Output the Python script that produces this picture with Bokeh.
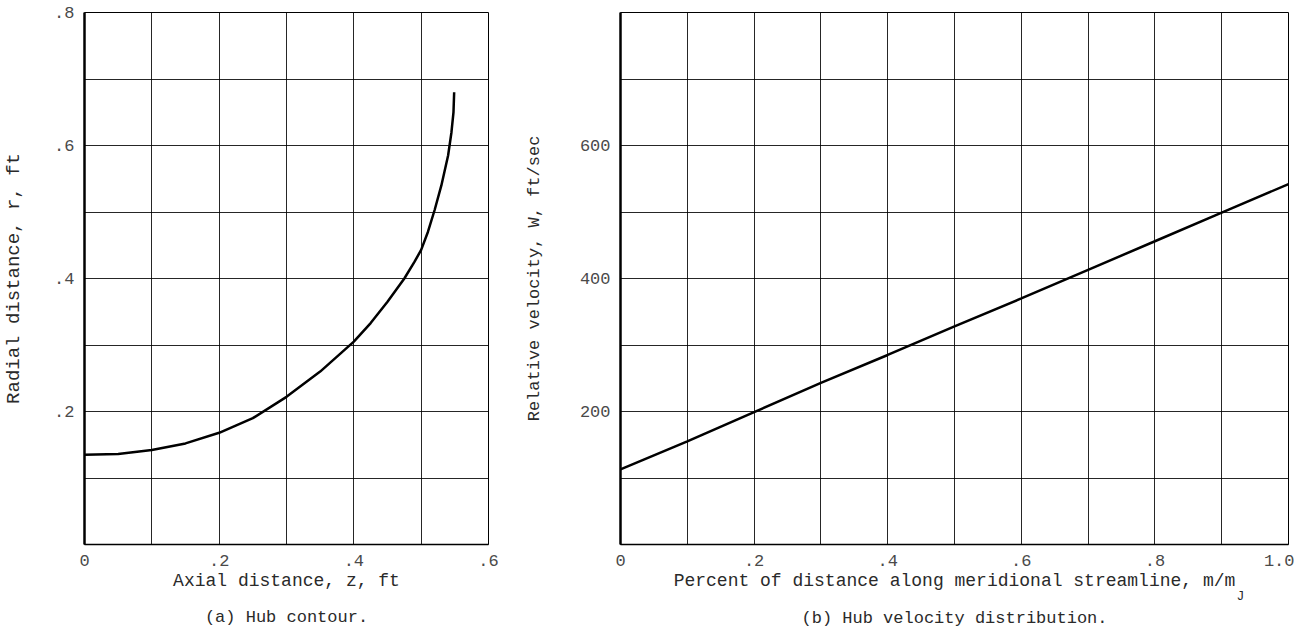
from bokeh.plotting import figure
from bokeh.layouts import row
from bokeh.models import FixedTicker, Range1d, Title
from bokeh.embed import file_html
from bokeh.resources import INLINE

# ---- data: (a) hub contour ----
axial_z = [0.0, 0.05, 0.10, 0.15, 0.20, 0.25, 0.30, 0.35, 0.40, 0.425, 0.45, 0.475, 0.49,
           0.50, 0.51, 0.52, 0.53, 0.54, 0.545, 0.548, 0.549]
radial_r = [0.135, 0.136, 0.142, 0.152, 0.168, 0.190, 0.222, 0.260, 0.305, 0.333, 0.365, 0.400, 0.425,
            0.443, 0.470, 0.503, 0.540, 0.585, 0.620, 0.650, 0.680]

# ---- data: (b) hub velocity distribution ----
meridional_frac = [0.0, 0.1, 0.2, 0.3, 0.4, 0.5, 0.6, 0.7, 0.8, 0.9, 1.0]
rel_velocity = [113, 155, 199, 243, 285, 328, 370, 413, 456, 499, 542]

# ---- ticks ----
a_xticks = [0.0, 0.2, 0.4, 0.6]
a_xlabels = ["0", ".2", ".4", ".6"]
a_yticks = [0.2, 0.4, 0.6, 0.8]
a_ylabels = [".2", ".4", ".6", ".8"]
a_xgrid = [0.1, 0.2, 0.3, 0.4, 0.5]
a_ygrid = [0.1, 0.2, 0.3, 0.4, 0.5, 0.6, 0.7]

b_xticks = [0.0, 0.2, 0.4, 0.6, 0.8, 1.0]
b_xlabels = ["0", ".2", ".4", ".6", ".8", "1.0"]
b_yticks = [200, 400, 600]
b_ylabels = ["200", "400", "600"]
b_xgrid = [0.1, 0.2, 0.3, 0.4, 0.5, 0.6, 0.7, 0.8, 0.9]
b_ygrid = [100, 200, 300, 400, 500, 600, 700]

FONT = "Liberation Mono"
TICK_COLOR = "#4a4a4a"
LABEL_COLOR = "#2a2a2a"


def style(p, xticks, xlabels, yticks, ylabels, xgrid, ygrid, ylabel_standoff):
    p.xaxis.ticker = FixedTicker(ticks=xticks)
    p.yaxis.ticker = FixedTicker(ticks=yticks)
    p.xaxis.major_label_overrides = {t: l for t, l in zip(xticks, xlabels)}
    p.yaxis.major_label_overrides = {t: l for t, l in zip(yticks, ylabels)}
    p.xgrid.ticker = FixedTicker(ticks=xgrid)
    p.ygrid.ticker = FixedTicker(ticks=ygrid)
    for g in (p.xgrid, p.ygrid):
        g.grid_line_color = "black"
        g.grid_line_alpha = 0.85
        g.grid_line_width = 1
    for ax in (p.xaxis, p.yaxis):
        ax.major_tick_line_color = None
        ax.minor_tick_line_color = None
        ax.axis_line_color = "black"
        ax.major_label_text_font = FONT
        ax.major_label_text_font_size = "17px"
        ax.major_label_text_color = TICK_COLOR
        ax.major_label_standoff = 4
        ax.axis_label_text_font = FONT
        ax.axis_label_text_font_style = "normal"
        ax.axis_label_text_color = LABEL_COLOR
    p.yaxis.axis_line_width = 2.5
    p.xaxis.axis_line_width = 1.5
    p.xaxis.axis_label_standoff = 2
    p.yaxis.axis_label_standoff = ylabel_standoff
    p.outline_line_color = "black"
    p.outline_line_width = 1
    p.outline_line_alpha = 1
    p.background_fill_color = "white"
    p.border_fill_color = "white"


def below_title(p, text, size, standoff, align="center", offset=0):
    t = Title(text=text, align=align, offset=offset, standoff=standoff,
              text_font=FONT, text_font_size=size, text_font_style="normal",
              text_color=LABEL_COLOR)
    p.add_layout(t, "below")


# ---------------- (a) ----------------
p1 = figure(width=505, height=640, x_range=Range1d(0, 0.6), y_range=Range1d(0, 0.8),
            output_backend="svg", toolbar_location=None,
            min_border_left=77, min_border_right=17, min_border_top=12, min_border_bottom=20)
style(p1, a_xticks, a_xlabels, a_yticks, a_ylabels, a_xgrid, a_ygrid, 26)
p1.xaxis.axis_label = "Axial distance, z, ft"
p1.yaxis.axis_label = "Radial distance, r, ft"
p1.xaxis.axis_label_text_font_size = "18px"
p1.yaxis.axis_label_text_font_size = "19px"
p1.line(axial_z, radial_r, line_color="black", line_width=2.5)
below_title(p1, "(a) Hub contour.", "17px", 24)

# ---------------- (b) ----------------
p2 = figure(width=789, height=640, x_range=Range1d(0, 1.0), y_range=Range1d(0, 800),
            output_backend="svg", toolbar_location=None,
            min_border_left=115, min_border_right=6, min_border_top=12, min_border_bottom=20)
style(p2, b_xticks, b_xlabels, b_yticks, b_ylabels, b_xgrid, b_ygrid, 33)
p2.xaxis.axis_label = "Percent of distance along meridional streamline, m/m"
p2.yaxis.axis_label = "Relative velocity, W, ft/sec"
p2.xaxis.axis_label_text_font_size = "18px"
p2.yaxis.axis_label_text_font_size = "17px"
p2.line(meridional_frac, rel_velocity, line_color="black", line_width=2.5)
below_title(p2, "J", "13px", -20, align="left", offset=616)
below_title(p2, "(b) Hub velocity distribution.", "17px", 26)

layout = row(p1, p2)
open("out.html", "w").write(file_html(layout, INLINE))
